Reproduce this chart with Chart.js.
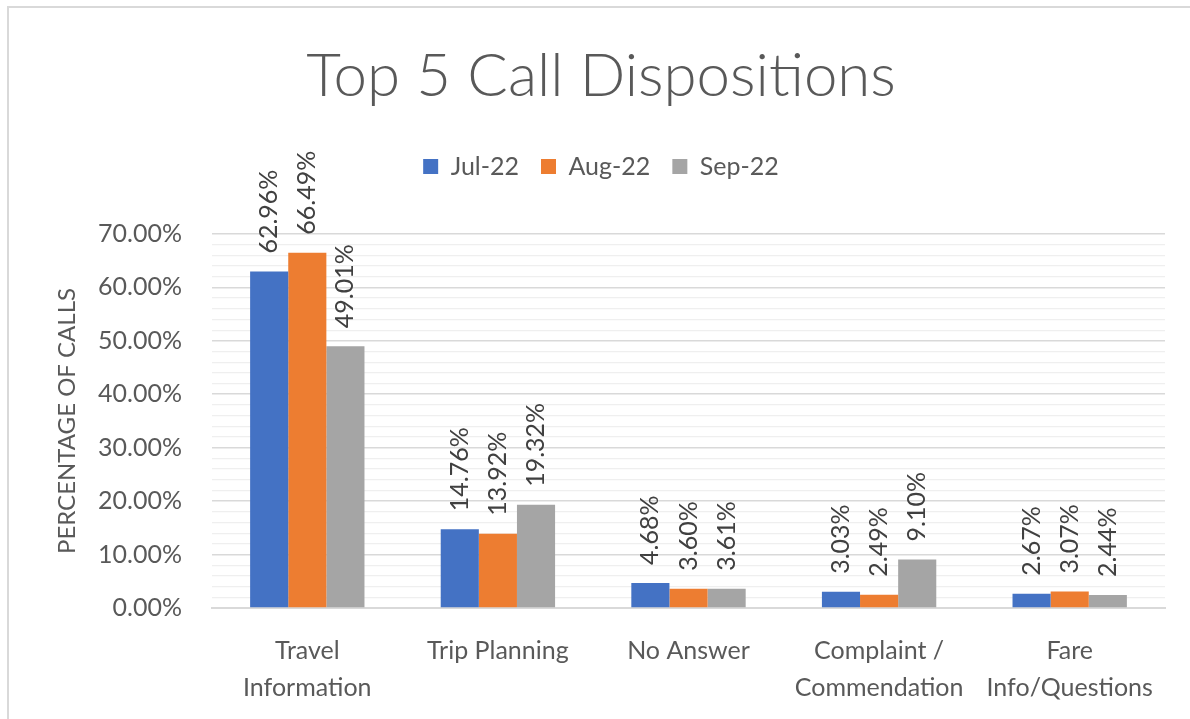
<!DOCTYPE html>
<html><head><meta charset="utf-8">
<script src="https://cdn.jsdelivr.net/npm/chart.js@4.4.0/dist/chart.umd.min.js"></script>
<style>
html,body{margin:0;padding:0;background:#fff;}
#wrap{position:relative;width:1190px;height:719px;overflow:hidden;background:#fff;}
#frame{position:absolute;left:7px;top:6px;width:1200px;height:730px;border-left:2px solid #d9d9d9;border-top:2px solid #d9d9d9;}
canvas{position:absolute;left:0;top:0;}
</style></head><body>
<div id="wrap"><div id="frame"></div><canvas id="c" width="1190" height="719"></canvas></div>
<script>
const categories = [['Travel','Information'], 'Trip Planning', 'No Answer', ['Complaint /','Commendation'], ['Fare','Info/Questions']];
const seriesNames = ['Jul-22', 'Aug-22', 'Sep-22'];
const jul22 = [62.96, 14.76, 4.68, 3.03, 2.67];
const aug22 = [66.49, 13.92, 3.60, 2.49, 3.07];
const sep22 = [49.01, 19.32, 3.61, 9.10, 2.44];
const yMajorTicks = [0, 10, 20, 30, 40, 50, 60, 70];
const seriesColors = ['#4472C4', '#ED7D31', '#A5A5A5'];

const TEXT = '#595959';
const FONT = 'Lato';

const barLabels = {
  id: 'barLabels',
  afterDatasetsDraw(chart) {
    const ctx = chart.ctx;
    ctx.save();
    ctx.font = '25px ' + FONT;
    ctx.fillStyle = '#404040';
    chart.data.datasets.forEach((ds, i) => {
      const meta = chart.getDatasetMeta(i);
      meta.data.forEach((bar, j) => {
        const v = ds.data[j];
        ctx.save();
        ctx.translate(bar.x, bar.y - 18);
        ctx.rotate(-Math.PI / 2);
        ctx.textAlign = 'left';
        ctx.textBaseline = 'middle';
        ctx.fillText(v.toFixed(2) + '%', 0, 0);
        ctx.restore();
      });
    });
    ctx.restore();
  }
};

const legendGap = {
  id: 'legendGap',
  beforeInit(chart) {
    const lg = chart.legend;
    if (!lg) return;
    const fit = lg.fit;
    lg.fit = function () { fit.call(lg); this.height += 45; };
  }
};

function draw() {
  new Chart(document.getElementById('c'), {
    type: 'bar',
    data: {
      labels: categories,
      datasets: [
        { label: seriesNames[0], data: jul22, backgroundColor: seriesColors[0] },
        { label: seriesNames[1], data: aug22, backgroundColor: seriesColors[1] },
        { label: seriesNames[2], data: sep22, backgroundColor: seriesColors[2] }
      ]
    },
    options: {
      responsive: false,
      animation: false,
      devicePixelRatio: 1,
      categoryPercentage: 0.6,
      barPercentage: 1.0,
      layout: { padding: { top: 0, left: 37, right: 25, bottom: 0 } },
      plugins: {
        tooltip: { enabled: false },
        title: {
          display: true,
          text: 'Top 5 Call Dispositions',
          color: TEXT,
          font: { family: FONT, size: 60, weight: '300', lineHeight: 1.2 },
          padding: { top: 41, bottom: 19 }
        },
        legend: {
          display: true,
          position: 'top',
          labels: {
            color: TEXT,
            font: { family: FONT, size: 25 },
            boxWidth: 15,
            boxHeight: 15,
            padding: 22
          }
        }
      },
      scales: {
        x: {
          grid: { display: false, drawTicks: false },
          border: { display: true, color: '#d9d9d9', width: 2 },
          ticks: {
            color: TEXT,
            font: { family: FONT, size: 25, lineHeight: 1.48 },
            padding: 24,
            maxRotation: 0,
            autoSkip: false
          },
          afterFit(s) { s.height = 111; }
        },
        y: {
          min: 0,
          max: 70,
          grid: {
            drawTicks: false,
            color: c => (c.tick && yMajorTicks.includes(c.tick.value)) ? '#d9d9d9' : '#efefef',
            lineWidth: c => (c.tick && yMajorTicks.includes(c.tick.value)) ? 1.6 : 1.3
          },
          border: { display: false },
          ticks: {
            stepSize: 2,
            color: TEXT,
            font: { family: FONT, size: 25 },
            padding: 30,
            autoSkip: false,
            callback: v => yMajorTicks.includes(v) ? v.toFixed(2) + '%' : ''
          },
          title: {
            display: true,
            text: 'PERCENTAGE OF CALLS',
            color: TEXT,
            font: { family: FONT, size: 24 },
            padding: { top: 16, bottom: 4 }
          },
          afterFit(s) { s.width = 175; }
        }
      }
    },
    plugins: [barLabels, legendGap]
  });
}

if (document.fonts && document.fonts.load) {
  Promise.all([
    document.fonts.load('25px Lato'),
    document.fonts.load('300 60px Lato')
  ]).then(draw, draw);
} else { draw(); }
</script>
</body></html>
